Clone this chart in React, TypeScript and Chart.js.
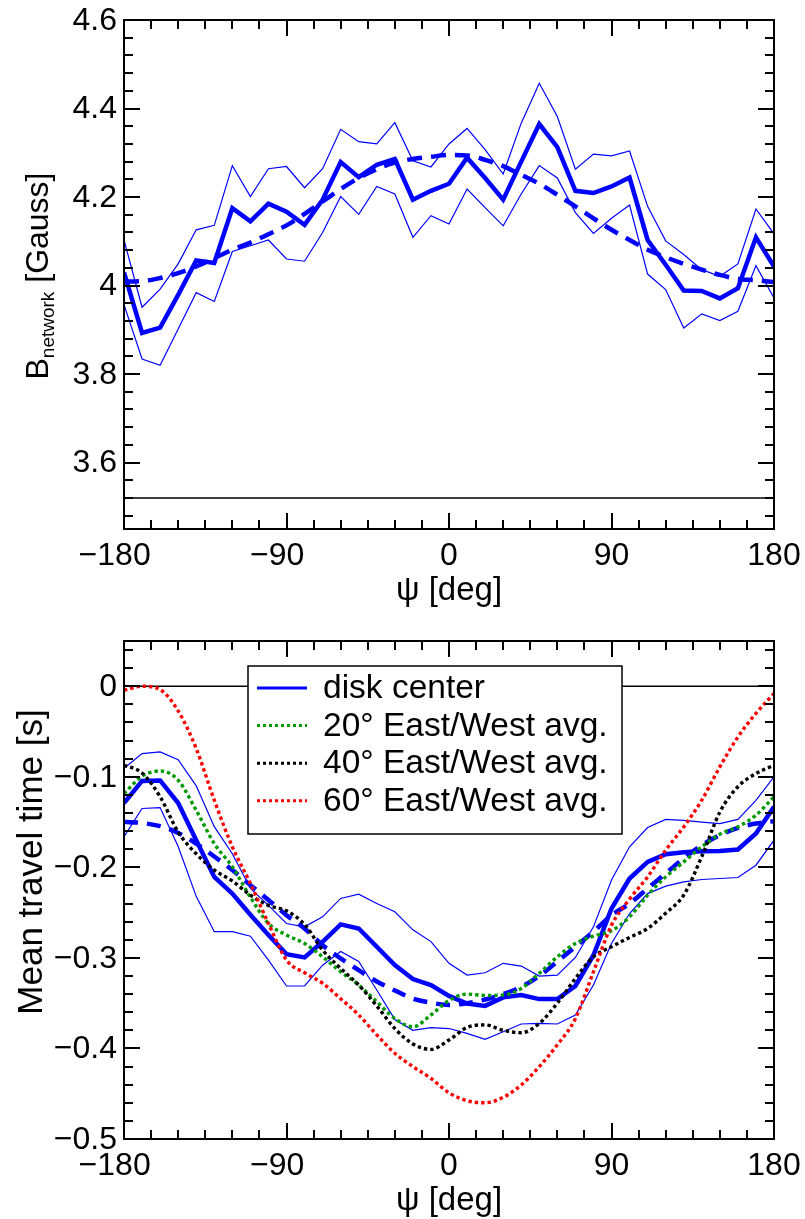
import React, { useEffect, useRef } from "react";
import { Chart, registerables } from "chart.js";

Chart.register(...registerables);

// Azimuth angle psi [deg], sampled every 10 degrees
const PSI = [
  -180, -170, -160, -150, -140, -130, -120, -110, -100, -90, -80, -70, -60, -50, -40, -30, -20, -10, 0,
  10, 20, 30, 40, 50, 60, 70, 80, 90, 100, 110, 120, 130, 140, 150, 160, 170, 180,
];

// Network magnetic field [Gauss]
const B_MEAN = [
  4.03, 3.893, 3.905, 3.979, 4.057, 4.051, 4.175, 4.145, 4.185, 4.167, 4.137, 4.194, 4.279, 4.245, 4.273, 4.286, 4.194, 4.214, 4.23,
  4.289, 4.243, 4.194, 4.28, 4.365, 4.313, 4.214, 4.209, 4.224, 4.244, 4.103, 4.047, 3.989, 3.988, 3.971, 3.994, 4.109, 4.043,
];
const B_UPPER = [
  4.103, 3.951, 3.992, 4.049, 4.126, 4.136, 4.271, 4.201, 4.264, 4.269, 4.221, 4.264, 4.353, 4.325, 4.32, 4.368, 4.282, 4.268, 4.32,
  4.355, 4.307, 4.252, 4.367, 4.457, 4.382, 4.263, 4.297, 4.293, 4.304, 4.179, 4.101, 4.07, 4.036, 4.021, 4.049, 4.173, 4.117,
];
const B_LOWER = [
  3.957, 3.834, 3.82, 3.902, 3.984, 3.964, 4.077, 4.09, 4.103, 4.06, 4.055, 4.12, 4.201, 4.161, 4.224, 4.207, 4.109, 4.158, 4.139,
  4.218, 4.176, 4.135, 4.207, 4.271, 4.243, 4.165, 4.118, 4.152, 4.182, 4.026, 3.991, 3.904, 3.936, 3.921, 3.942, 4.045, 3.972,
];
const B_FIT = [
  4.009, 4.01, 4.017, 4.028, 4.043, 4.062, 4.081, 4.097, 4.116, 4.136, 4.162, 4.19, 4.218, 4.243, 4.263, 4.278, 4.286, 4.291, 4.295,
  4.294, 4.284, 4.27, 4.25, 4.23, 4.205, 4.179, 4.152, 4.126, 4.103, 4.081, 4.064, 4.049, 4.036, 4.024, 4.015, 4.012, 4.008,
];
const B_REF_LEVEL = 3.52;

// Mean travel time [s]
const T_MEAN = [
  -0.129, -0.1045, -0.104, -0.129, -0.17, -0.2105, -0.229, -0.2524, -0.2748, -0.2958, -0.2995, -0.2822, -0.263, -0.2675, -0.2877,
  -0.308, -0.3234, -0.33, -0.342, -0.3503, -0.353, -0.3436, -0.341, -0.3455, -0.3455, -0.331, -0.297, -0.2454, -0.2123, -0.1939,
  -0.1854, -0.1832, -0.1821, -0.1818, -0.1803, -0.1626, -0.1332,
];
const T_UPPER = [
  -0.0905, -0.0743, -0.0725, -0.081, -0.11, -0.155, -0.185, -0.2233, -0.242, -0.262, -0.2657, -0.2546, -0.2343, -0.2296, -0.24,
  -0.249, -0.269, -0.282, -0.306, -0.319, -0.3164, -0.306, -0.309, -0.32, -0.319, -0.2995, -0.2657, -0.214, -0.1773, -0.156,
  -0.147, -0.148, -0.15, -0.1516, -0.147, -0.126, -0.1,
];
const T_LOWER = [
  -0.166, -0.135, -0.134, -0.177, -0.232, -0.271, -0.271, -0.276, -0.3024, -0.331, -0.331, -0.308, -0.293, -0.304, -0.3355,
  -0.368, -0.38, -0.377, -0.378, -0.3834, -0.39, -0.3815, -0.373, -0.3723, -0.373, -0.363, -0.33, -0.284, -0.251, -0.229,
  -0.2208, -0.216, -0.2134, -0.2123, -0.2112, -0.1976, -0.17,
];
const T_FIT = [
  -0.1497, -0.151, -0.1545, -0.162, -0.1737, -0.188, -0.203, -0.2196, -0.236, -0.2528, -0.2675, -0.286, -0.3006, -0.3135, -0.326,
  -0.336, -0.345, -0.3495, -0.352, -0.35, -0.346, -0.34, -0.332, -0.32, -0.304, -0.2877, -0.271, -0.2528, -0.24, -0.2233,
  -0.2067, -0.19, -0.1755, -0.1645, -0.1564, -0.1516, -0.149,
];
const T_EW20 = [
  -0.1185, -0.0993, -0.0935, -0.1038, -0.137, -0.1737, -0.1994, -0.233, -0.262, -0.2748, -0.284, -0.2988, -0.3153, -0.33, -0.3484,
  -0.367, -0.376, -0.363, -0.347, -0.34, -0.3414, -0.341, -0.3337, -0.317, -0.2988, -0.284, -0.276, -0.27, -0.2546, -0.2307,
  -0.2105, -0.194, -0.1773, -0.1634, -0.1553, -0.1424, -0.122,
];
const T_EW40 = [
  -0.0872, -0.0957, -0.122, -0.161, -0.185, -0.203, -0.215, -0.2307, -0.242, -0.248, -0.263, -0.2914, -0.3116, -0.33, -0.353,
  -0.378, -0.395, -0.401, -0.3907, -0.3768, -0.374, -0.38, -0.3826, -0.3723, -0.35, -0.3227, -0.2988, -0.2877, -0.2774, -0.2675,
  -0.2506, -0.2307, -0.188, -0.139, -0.111, -0.0964, -0.0872,
];
const T_EW60 = [
  -0.0044, 0.0, -0.0037, -0.0272, -0.0688, -0.1258, -0.1773, -0.2178, -0.262, -0.3024, -0.3164, -0.328, -0.345, -0.363, -0.385,
  -0.4054, -0.42, -0.433, -0.449, -0.4577, -0.46, -0.454, -0.4404, -0.42, -0.396, -0.367, -0.3153, -0.264, -0.235, -0.2105,
  -0.181, -0.1553, -0.1258, -0.089, -0.056, -0.03, -0.008,
];
const T_ZERO_LEVEL = 0;

// Axis ticks and labels
const X_TICKS = [-180, -90, 0, 90, 180];
const X_TICK_LABELS = ["\u2212180", "\u221290", "0", "90", "180"];
const B_TICKS = [3.6, 3.8, 4.0, 4.2, 4.4, 4.6];
const B_TICK_LABELS = ["3.6", "3.8", "4", "4.2", "4.4", "4.6"];
const T_TICKS = [-0.5, -0.4, -0.3, -0.2, -0.1, 0];
const T_TICK_LABELS = ["\u22120.5", "\u22120.4", "\u22120.3", "\u22120.2", "\u22120.1", "0"];
const LEGEND_LABELS = ["disk center", "20\u00b0 East/West avg.", "40\u00b0 East/West avg.", "60\u00b0 East/West avg."];

const FONT = "'Liberation Sans', Arial, Helvetica, sans-serif";
const BLUE = "#0000ff";
const GREEN = "#009a00";
const BLACK = "#000000";
const RED = "#ff0000";

const pts = (ys: number[]) => PSI.map((x, i) => ({ x, y: ys[i] }));
const flat = (level: number) => [
  { x: PSI[0], y: level },
  { x: PSI[PSI.length - 1], y: level },
];

const range = (from: number, to: number, step: number) => {
  const out: number[] = [];
  const n = Math.round((to - from) / step);
  for (let i = 0; i <= n; i++) out.push(+(from + i * step).toFixed(6));
  return out;
};

type LegendItem = { label: string; color: string; width: number; dash: number[] };

interface FrameSpec {
  xMinorStep: number;
  yMajor: number[];
  yLabels: string[];
  yMinorStep: number;
  yTitle: (ctx: CanvasRenderingContext2D) => void;
  yTitleX: number;
  yTitleY: number;
  legend?: { left: number; top: number; right: number; bottom: number; items: LegendItem[] };
}

function framePlugin(id: string, spec: FrameSpec) {
  return {
    id,
    afterDatasetsDraw(chart: any) {
      const { ctx, chartArea: a, scales } = chart;
      const xs = scales.x;
      const ys = scales.y;
      ctx.save();
      ctx.strokeStyle = "#000";
      ctx.fillStyle = "#000";
      ctx.lineCap = "butt";

      // ticks pointing into the plot on all four sides
      ctx.lineWidth = 2;
      for (const v of range(xs.min, xs.max, spec.xMinorStep)) {
        const px = Math.round(xs.getPixelForValue(v));
        const len = X_TICKS.includes(v) ? 16 : 9;
        ctx.beginPath();
        ctx.moveTo(px, a.bottom);
        ctx.lineTo(px, a.bottom - len);
        ctx.moveTo(px, a.top);
        ctx.lineTo(px, a.top + len);
        ctx.stroke();
      }
      const ymin = ys.min, ymax = ys.max;
      const first = Math.ceil(ymin / spec.yMinorStep - 1e-6) * spec.yMinorStep;
      for (const v of range(first, ymax, spec.yMinorStep)) {
        if (v > ymax + 1e-9) continue;
        const py = Math.round(ys.getPixelForValue(v));
        const major = spec.yMajor.some((m) => Math.abs(m - v) < 1e-6);
        const len = major ? 16 : 9;
        ctx.beginPath();
        ctx.moveTo(a.left, py);
        ctx.lineTo(a.left + len, py);
        ctx.moveTo(a.right, py);
        ctx.lineTo(a.right - len, py);
        ctx.stroke();
      }

      // frame
      ctx.lineWidth = 2;
      ctx.strokeRect(a.left, a.top, a.right - a.left, a.bottom - a.top);

      // legend box
      if (spec.legend) {
        const L = spec.legend;
        ctx.fillStyle = "#fff";
        ctx.fillRect(L.left, L.top, L.right - L.left, L.bottom - L.top);
        ctx.lineWidth = 1.5;
        ctx.strokeStyle = "#000";
        ctx.strokeRect(L.left, L.top, L.right - L.left, L.bottom - L.top);
        const rowH = 37.6;
        L.items.forEach((it, i) => {
          const cy = L.top + 22 + i * rowH;
          ctx.save();
          ctx.strokeStyle = it.color;
          ctx.lineWidth = it.width;
          ctx.setLineDash(it.dash);
          ctx.beginPath();
          ctx.moveTo(L.left + 9, cy);
          ctx.lineTo(L.left + 59, cy);
          ctx.stroke();
          ctx.restore();
          ctx.fillStyle = "#000";
          ctx.font = `33.5px ${FONT}`;
          ctx.textAlign = "left";
          ctx.textBaseline = "middle";
          ctx.fillText(it.label, L.left + 75, cy + 1);
        });
      }

      // tick labels
      ctx.fillStyle = "#000";
      ctx.font = `32px ${FONT}`;
      ctx.textBaseline = "middle";
      X_TICKS.forEach((v, i) => {
        const text = X_TICK_LABELS[i];
        const digits = text.replace("\u2212", "");
        const w = ctx.measureText(digits).width;
        ctx.textAlign = "right";
        ctx.fillText(text, xs.getPixelForValue(v) + w / 2, a.bottom + 27);
      });
      ctx.textAlign = "right";
      spec.yMajor.forEach((v, i) => {
        ctx.fillText(spec.yLabels[i], a.left - 7, ys.getPixelForValue(v) + 1);
      });

      // x title
      ctx.font = `33px ${FONT}`;
      ctx.textAlign = "center";
      ctx.fillText("\u03c8 [deg]", (a.left + a.right) / 2, a.bottom + 62);

      // y title
      ctx.save();
      ctx.translate(spec.yTitleX, spec.yTitleY);
      ctx.rotate(-Math.PI / 2);
      spec.yTitle(ctx);
      ctx.restore();

      ctx.restore();
    },
  };
}

function drawBTitle(ctx: CanvasRenderingContext2D) {
  const big = `32px ${FONT}`;
  const small = `19px ${FONT}`;
  ctx.textBaseline = "alphabetic";
  ctx.textAlign = "left";
  ctx.font = big;
  const wB = ctx.measureText("B").width;
  const wG = ctx.measureText(" [Gauss]").width;
  ctx.font = small;
  const wN = ctx.measureText("network").width;
  const total = wB + wN + wG;
  let x = -total / 2;
  const base = 11;
  ctx.font = big;
  ctx.fillText("B", x, base);
  x += wB;
  ctx.font = small;
  ctx.fillText("network", x, base + 6);
  x += wN;
  ctx.font = big;
  ctx.fillText(" [Gauss]", x, base);
}

function drawTTitle(ctx: CanvasRenderingContext2D) {
  ctx.font = `35px ${FONT}`;
  ctx.textAlign = "center";
  ctx.textBaseline = "middle";
  ctx.fillText("Mean travel time [s]", 0, 0);
}

const thin = (data: number[]) => ({
  data: pts(data),
  borderColor: BLUE,
  borderWidth: 1.2,
  pointRadius: 0,
  tension: 0,
  order: 7,
});

export default function App() {
  const topRef = useRef<HTMLCanvasElement | null>(null);
  const botRef = useRef<HTMLCanvasElement | null>(null);

  useEffect(() => {
    const common = {
      responsive: false,
      maintainAspectRatio: false,
      animation: false as const,
      devicePixelRatio: 1,
      events: [] as any[],
      plugins: { legend: { display: false }, tooltip: { enabled: false } },
      elements: { point: { radius: 0 } },
    };

    const top = new Chart(topRef.current as HTMLCanvasElement, {
      type: "line",
      data: {
        datasets: [
          { data: flat(B_REF_LEVEL), borderColor: BLACK, borderWidth: 1.6, pointRadius: 0, order: 9 } as any,
          thin(B_UPPER),
          thin(B_LOWER),
          { data: pts(B_MEAN), borderColor: BLUE, borderWidth: 4.5, pointRadius: 0, order: 5, borderJoinStyle: "miter" },
          { data: pts(B_FIT), borderColor: BLUE, borderWidth: 4.5, borderDash: [15, 9], pointRadius: 0, order: 4, cubicInterpolationMode: "monotone" },
        ],
      },
      options: {
        ...common,
        layout: { padding: { left: 124, right: 31, top: 20, bottom: 81 } },
        scales: {
          x: { type: "linear", min: -180, max: 180, display: false },
          y: { type: "linear", min: 3.45, max: 4.6, display: false },
        },
      } as any,
      plugins: [
        framePlugin("bframe", {
          xMinorStep: 15,
          yMajor: B_TICKS,
          yLabels: B_TICK_LABELS,
          yMinorStep: 0.04,
          yTitle: drawBTitle,
          yTitleX: 37,
          yTitleY: 276,
        }),
      ],
    });

    const dotted = (data: number[], color: string, order: number) => ({
      data: pts(data),
      borderColor: color,
      borderWidth: 3.4,
      borderDash: [3.4, 3],
      borderCapStyle: "butt",
      pointRadius: 0,
      cubicInterpolationMode: "monotone",
      order,
    });

    const bot = new Chart(botRef.current as HTMLCanvasElement, {
      type: "line",
      data: {
        datasets: [
          { data: flat(T_ZERO_LEVEL), borderColor: BLACK, borderWidth: 1.6, pointRadius: 0, order: 9 } as any,
          thin(T_UPPER),
          thin(T_LOWER),
          { data: pts(T_MEAN), borderColor: BLUE, borderWidth: 4.5, pointRadius: 0, order: 5 },
          { data: pts(T_FIT), borderColor: BLUE, borderWidth: 4.5, borderDash: [14, 9], pointRadius: 0, order: 4, cubicInterpolationMode: "monotone" },
          dotted(T_EW20, GREEN, 3),
          dotted(T_EW40, BLACK, 2),
          dotted(T_EW60, RED, 1),
        ],
      },
      options: {
        ...common,
        layout: { padding: { left: 124, right: 31, top: 31, bottom: 80 } },
        scales: {
          x: { type: "linear", min: -180, max: 180, display: false },
          y: { type: "linear", min: -0.5, max: 0.05, display: false },
        },
      } as any,
      plugins: [
        framePlugin("tframe", {
          xMinorStep: 15,
          yMajor: T_TICKS,
          yLabels: T_TICK_LABELS,
          yMinorStep: 0.02,
          yTitle: drawTTitle,
          yTitleX: 32,
          yTitleY: 252,
          legend: {
            left: 248,
            top: 56,
            right: 622,
            bottom: 224,
            items: [
              { label: LEGEND_LABELS[0], color: BLUE, width: 3, dash: [] },
              { label: LEGEND_LABELS[1], color: GREEN, width: 3, dash: [3, 3] },
              { label: LEGEND_LABELS[2], color: BLACK, width: 3, dash: [3, 3] },
              { label: LEGEND_LABELS[3], color: RED, width: 3, dash: [3, 3] },
            ],
          },
        }),
      ],
    });

    return () => {
      top.destroy();
      bot.destroy();
    };
  }, []);

  return (
    <div style={{ position: "absolute", left: 0, top: 0, width: 805, height: 1219, background: "#fff", overflow: "hidden" }}>
      <canvas ref={topRef} width={805} height={610} style={{ position: "absolute", left: 0, top: 0, width: 805, height: 610 }} />
      <canvas ref={botRef} width={805} height={609} style={{ position: "absolute", left: 0, top: 610, width: 805, height: 609 }} />
    </div>
  );
}
